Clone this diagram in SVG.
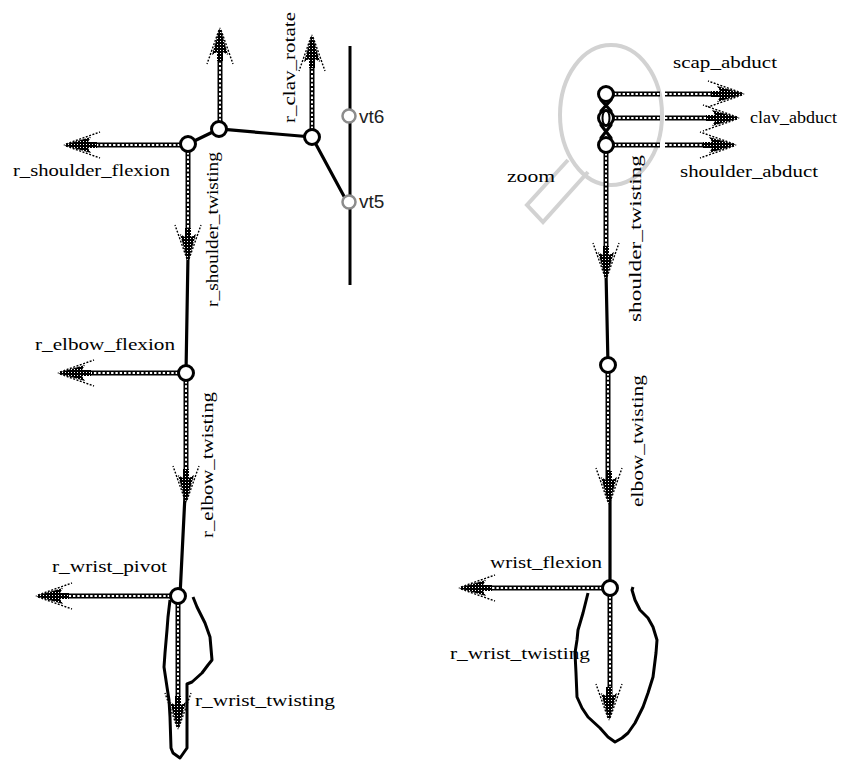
<svg xmlns="http://www.w3.org/2000/svg" xmlns:xlink="http://www.w3.org/1999/xlink" width="852" height="762" viewBox="0 0 852 762">
  <style>
    .lbl { font-family: "Liberation Serif", "Times New Roman", serif; font-size: 17px; fill: #000; }
    .vt { font-family: "Liberation Sans", Arial, sans-serif; font-size: 19px; fill: #222; }
    .bone { stroke: #000; stroke-width: 3.2; fill: none; stroke-linecap: round; }
    .joint { fill: #fff; stroke: #000; stroke-width: 3; }
    .spine { fill: #fff; stroke: #8c8c8c; stroke-width: 2.5; }
    .shaftA { stroke: #000; stroke-width: 5; fill: none; }
    .shaftB { stroke: #fff; stroke-width: 2; fill: none; stroke-dasharray: 2.4 1.9; }
    .hand { stroke: #000; stroke-width: 3; fill: none; stroke-linejoin: round; }
    .lens { stroke: #d2d2d2; stroke-width: 4; fill: none; }
  </style>
  <defs>
    <pattern id="hatch" width="3" height="3" patternUnits="userSpaceOnUse">
      <rect width="3" height="3" fill="#000"/>
      <rect width="1" height="1" fill="#fff"/>
    </pattern>
    <!-- arrowhead pointing along +x, tip at the origin -->
    <g id="hd">
      <polygon points="0,0 -28,-8 -25,-3 -34,-3 -34,3 -25,3 -28,8" fill="url(#hatch)"/>
      <path d="M-3,-1 L-37,-13 M-3,1 L-37,13" stroke="#000" stroke-width="1.4" stroke-dasharray="2 1.5" fill="none"/>
    </g>
  </defs>

  <!-- magnifier (right figure) -->
  <g id="zoom-lens">
    <ellipse class="lens" cx="611" cy="115" rx="51" ry="70"/>
    <path class="lens" d="M568,160 L527,205 L543,222 L588,172"/>
  </g>

  <!-- spine -->
  <g id="spine">
    <line x1="350" y1="46" x2="350" y2="285" stroke="#000" stroke-width="3"/>
  </g>

  <!-- hands -->
  <g id="hands">
    <polyline class="hand" points="193,597 197,607 205,623 210,637 212,660 208,665 202,673 192,682 187,684 187,748 180,758 173,753 171,748 170,717 169,700 167,687 164,667 165,653 167,630 168,617 170,600"/>
    <polyline class="hand" points="588,593 583,613 578,630 577,640 575,653 576,673 577,697 582,708 588,717 600,728 608,737 615,742 622,738 628,733 635,723 643,707 648,693 653,677 656,653 657,640 653,627 648,618 640,610 635,600 632,590 633,587"/>
  </g>

  <!-- connectors: bones and motion arrows -->
  <g id="connectors">
    <!-- left arm bones -->
    <polyline class="bone" points="188,144 219,129 265,133 312,137"/>
    <line class="bone" x1="312" y1="137" x2="346" y2="200" stroke-width="4"/>
    <line class="bone" x1="188" y1="255" x2="186" y2="373"/>
    <line class="bone" x1="185" y1="495" x2="180" y2="596"/>
    <!-- right arm bones -->
    <path class="bone" d="M601,100 L611,111 M611,100 L601,111 M601,125 L611,138 M611,125 L601,138" stroke-width="2.5"/>
    <line class="bone" x1="606" y1="272" x2="608" y2="365"/>
    <line class="bone" x1="610" y1="497" x2="610" y2="588"/>

    <!-- left shafts -->
    <g>
      <path class="shaftA" d="M180,145 H80 M188,152 V248 M220,121 V44 M312,129 V50 M178,373 H74 M186,381 V488 M170,596 H52 M178,604 V713"/>
      <path class="shaftB" d="M180,145 H80 M188,152 V248 M220,121 V44 M312,129 V50 M178,373 H74 M186,381 V488 M170,596 H52 M178,604 V713"/>
    </g>
    <use xlink:href="#hd" transform="translate(63,145) rotate(180)"/>
    <use xlink:href="#hd" transform="translate(188,262) rotate(90)"/>
    <use xlink:href="#hd" transform="translate(220,27) rotate(-90)"/>
    <use xlink:href="#hd" transform="translate(312,34) rotate(-90)"/>
    <use xlink:href="#hd" transform="translate(57,373) rotate(180)"/>
    <use xlink:href="#hd" transform="translate(186,503) rotate(90)"/>
    <use xlink:href="#hd" transform="translate(35,596) rotate(180)"/>
    <use xlink:href="#hd" transform="translate(178,730) rotate(90)"/>

    <!-- right shafts -->
    <g>
      <path class="shaftA" d="M614,94 H660 M665,94 H728 M614,118 H660 M665,118 H723 M614,145 H660 M665,145 H720 M606,153 V265 M608,373 V490 M602,588 H475 M610,596 V706"/>
      <path class="shaftB" d="M614,94 H660 M665,94 H728 M614,118 H660 M665,118 H723 M614,145 H660 M665,145 H720 M606,153 V265 M608,373 V490 M602,588 H475 M610,596 V706"/>
    </g>
    <use xlink:href="#hd" transform="translate(745,94)"/>
    <use xlink:href="#hd" transform="translate(740,118)"/>
    <use xlink:href="#hd" transform="translate(737,145)"/>
    <use xlink:href="#hd" transform="translate(606,280) rotate(90)"/>
    <use xlink:href="#hd" transform="translate(609,505) rotate(90)"/>
    <use xlink:href="#hd" transform="translate(458,588) rotate(180)"/>
    <use xlink:href="#hd" transform="translate(609,721) rotate(90)"/>
  </g>

  <!-- left arm joints -->
  <g id="r-shoulder"><circle class="joint" cx="188" cy="144" r="7.5"/></g>
  <g id="r-shoulder-top"><circle class="joint" cx="219" cy="129" r="7.5"/></g>
  <g id="r-clav"><circle class="joint" cx="312" cy="137" r="7.5"/></g>
  <g id="r-elbow"><circle class="joint" cx="186" cy="373" r="7.5"/></g>
  <g id="r-wrist"><circle class="joint" cx="178" cy="596" r="7.5"/></g>
  <g id="vt6"><circle class="spine" cx="349" cy="116" r="6.5"/><text class="vt" x="359" y="123">vt6</text></g>
  <g id="vt5"><circle class="spine" cx="349" cy="202" r="6.5"/><text class="vt" x="359" y="208">vt5</text></g>

  <!-- right arm joints -->
  <g id="scap"><circle class="joint" cx="606" cy="94" r="7.5"/></g>
  <g id="clav"><circle class="joint" cx="606" cy="118" r="7.5"/><ellipse cx="606" cy="118" rx="3.5" ry="7.5" fill="none" stroke="#000" stroke-width="2"/></g>
  <g id="shoulder"><circle class="joint" cx="606" cy="145" r="7.5"/></g>
  <g id="elbow"><circle class="joint" cx="608" cy="365" r="7.5"/></g>
  <g id="wrist"><circle class="joint" cx="610" cy="588" r="7.5"/></g>

  <!-- horizontal labels -->
  <g id="labels">
    <text class="lbl" x="13" y="176" textLength="157" lengthAdjust="spacingAndGlyphs">r_shoulder_flexion</text>
    <text class="lbl" x="35" y="350" textLength="140" lengthAdjust="spacingAndGlyphs">r_elbow_flexion</text>
    <text class="lbl" x="52" y="572" textLength="115" lengthAdjust="spacingAndGlyphs">r_wrist_pivot</text>
    <text class="lbl" x="195" y="706" textLength="140" lengthAdjust="spacingAndGlyphs">r_wrist_twisting</text>
    <text class="lbl" x="673" y="68" textLength="104" lengthAdjust="spacingAndGlyphs">scap_abduct</text>
    <text class="lbl" x="750" y="123" textLength="87" lengthAdjust="spacingAndGlyphs">clav_abduct</text>
    <text class="lbl" x="680" y="177" textLength="138" lengthAdjust="spacingAndGlyphs">shoulder_abduct</text>
    <text class="lbl" x="507" y="182" textLength="48" lengthAdjust="spacingAndGlyphs">zoom</text>
    <text class="lbl" x="490" y="568" textLength="112" lengthAdjust="spacingAndGlyphs">wrist_flexion</text>
    <text class="lbl" x="450" y="659" textLength="140" lengthAdjust="spacingAndGlyphs">r_wrist_twisting</text>

    <!-- vertical labels, reading upward -->
    <text class="lbl" transform="translate(218,307) rotate(-90)" textLength="155" lengthAdjust="spacingAndGlyphs">r_shoulder_twisting</text>
    <text class="lbl" transform="translate(295,123) rotate(-90)" textLength="111" lengthAdjust="spacingAndGlyphs">r_clav_rotate</text>
    <text class="lbl" transform="translate(213,538) rotate(-90)" textLength="146" lengthAdjust="spacingAndGlyphs">r_elbow_twisting</text>
    <text class="lbl" transform="translate(641,322) rotate(-90)" textLength="167" lengthAdjust="spacingAndGlyphs">shoulder_twisting</text>
    <text class="lbl" transform="translate(643,507) rotate(-90)" textLength="132" lengthAdjust="spacingAndGlyphs">elbow_twisting</text>
  </g>
</svg>
